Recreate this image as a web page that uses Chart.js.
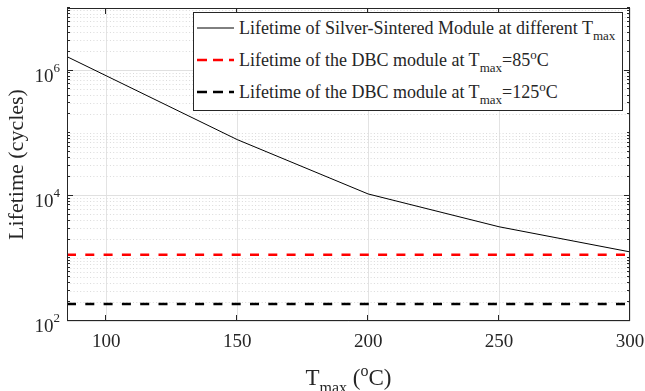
<!DOCTYPE html>
<html>
<head>
<meta charset="utf-8">
<script src="https://cdn.jsdelivr.net/npm/chart.js@4.4.1/dist/chart.umd.min.js"></script>
<style>
html, body { margin: 0; padding: 0; background: #fff; }
#wrap { position: relative; width: 645px; height: 391px; font-family: "Liberation Serif", "Times New Roman", serif; color: #262626; }
#wrap canvas { position: absolute; left: 0; top: 0; }
#legend { position: absolute; left: 193px; top: 12px; width: 430px; height: 99px; box-sizing: border-box;
          border: 1px solid #262626; background: #fff; font-size: 18px; }
.row { position: absolute; left: 3px; height: 20px; display: flex; align-items: center; white-space: nowrap; }
.row svg { margin-right: 5px; }
.sub { font-size: 13px; position: relative; top: 6px; line-height: 0; }
.sup { font-size: 13px; position: relative; top: -7px; line-height: 0; }
#xtitle { position: absolute; left: 0; width: 697px; text-align: center; top: 366px; font-size: 23px; white-space: nowrap; line-height: 23px; }
#xtitle .sub { font-size: 16px; top: 8px; }
#xtitle .sup { font-size: 16px; top: -9px; }
</style>
</head>
<body>
<div id="wrap">
  <canvas id="chartLife" width="645" height="391"></canvas>
  <div id="legend">
    <div class="row" style="top:5px">
      <svg width="37" height="6"><line x1="0" y1="3" x2="37" y2="3" stroke="#000" stroke-width="1"/></svg>
      <span>Lifetime of Silver-Sintered Module at different T<span class="sub">max</span></span>
    </div>
    <div class="row" style="top:37px">
      <svg width="37" height="6"><line x1="0" y1="3" x2="37" y2="3" stroke="#ff0000" stroke-width="2.5" stroke-dasharray="10 6"/></svg>
      <span>Lifetime of the DBC module at T<span class="sub">max</span>=85<span class="sup">o</span>C</span>
    </div>
    <div class="row" style="top:69px">
      <svg width="37" height="6"><line x1="0" y1="3" x2="37" y2="3" stroke="#000" stroke-width="2.5" stroke-dasharray="10 6"/></svg>
      <span>Lifetime of the DBC module at T<span class="sub">max</span>=125<span class="sup">o</span>C</span>
    </div>
  </div>
  <div id="xtitle">T<span class="sub">max</span> (<span class="sup">o</span>C)</div>
</div>
<script>
// данные
const tmax = [85, 150, 200, 250, 300];
const lifeSilver = [1.67e6, 7.9e4, 1.07e4, 3.2e3, 1.27e3];
const dbcTmax = [85, 300];
const lifeDbc85 = [1140, 1140];
const lifeDbc125 = [187, 187];

const xTicks = [100, 150, 200, 250, 300];
const yMajor = [1e2, 1e4, 1e6];
const yDecades = [1e2, 1e3, 1e4, 1e5, 1e6];
const yMant = [1, 2, 3, 4, 5, 6, 7, 8, 9];

// минорные деления лог-шкалы (2..9 в каждой декаде + 1e3, 1e5, 1e7)
let yMinor = [];
yDecades.forEach(d => yMant.forEach(m => { if (!(m === 1 && yMajor.includes(d))) yMinor.push(m * d); }));
yMinor.push(1e7);

const pts = (xs, ys) => xs.map((x, i) => ({ x: x, y: ys[i] }));

const FONT = '"Liberation Serif", "Times New Roman", serif';
const AX = '#262626';

// рамка, внутренние засечки и подписи 10^n
const framePlugin = {
    id: 'framePlugin',
    afterDraw(chart) {
        const { ctx, chartArea: a, scales } = chart;
        const xs = scales.x, ys = scales.y;
        ctx.save();
        ctx.strokeStyle = AX;
        ctx.lineWidth = 1;
        ctx.beginPath();
        xTicks.forEach(v => {
            let p = Math.round(xs.getPixelForValue(v)) - 0.5;
            ctx.moveTo(p, a.bottom); ctx.lineTo(p, a.bottom - 6);
            ctx.moveTo(p, a.top); ctx.lineTo(p, a.top + 6);
        });
        yMajor.forEach(v => {
            let p = Math.round(ys.getPixelForValue(v)) - 0.5;
            ctx.moveTo(a.left, p); ctx.lineTo(a.left + 6, p);
            ctx.moveTo(a.right, p); ctx.lineTo(a.right - 6, p);
        });
        yMinor.forEach(v => {
            let p = Math.round(ys.getPixelForValue(v)) - 0.5;
            ctx.moveTo(a.left, p); ctx.lineTo(a.left + 3, p);
            ctx.moveTo(a.right, p); ctx.lineTo(a.right - 3, p);
        });
        ctx.stroke();
        ctx.strokeRect(a.left + 0.5, a.top + 0.5, a.right - a.left - 1, a.bottom - a.top - 1);

        ctx.fillStyle = AX;
        ctx.textAlign = 'right';
        ctx.textBaseline = 'alphabetic';
        yMajor.forEach(v => {
            let p = ys.getPixelForValue(v);
            let e = String(Math.round(Math.log10(v)));
            ctx.font = '13px ' + FONT;
            let ew = ctx.measureText(e).width;
            ctx.fillText(e, 60, p + 1);
            ctx.font = '19px ' + FONT;
            ctx.fillText('10', 60 - ew, p + 11);
        });
        ctx.restore();
    }
};

new Chart(document.getElementById('chartLife'), {
    type: 'scatter',
    data: {
        datasets: [
            { label: 'Silver-Sintered', data: pts(tmax, lifeSilver), showLine: true, borderColor: '#000', borderWidth: 1, pointRadius: 0 },
            { label: 'DBC 85', data: pts(dbcTmax, lifeDbc85), showLine: true, borderColor: '#ff0000', borderWidth: 2.5, borderDash: [9, 9.3], pointRadius: 0 },
            { label: 'DBC 125', data: pts(dbcTmax, lifeDbc125), showLine: true, borderColor: '#000', borderWidth: 2.5, borderDash: [9, 9.3], pointRadius: 0 }
        ]
    },
    options: {
        responsive: false,
        animation: false,
        layout: { padding: { top: 8, right: 15, left: 0, bottom: 0 } },
        plugins: { legend: { display: false }, tooltip: { enabled: false } },
        scales: {
            x: {
                type: 'linear', min: 85, max: 300,
                afterBuildTicks: s => { s.ticks = xTicks.map(v => ({ value: v })); },
                afterFit: s => { s.height = 70; s.paddingLeft = 0; s.paddingRight = 0; },
                grid: { color: '#e3e3e3', drawTicks: false },
                border: { display: false },
                ticks: { color: AX, font: { family: FONT, size: 19 }, padding: 10, maxRotation: 0 }
            },
            y: {
                type: 'logarithmic', min: 1e2, max: 1e7, position: 'left',
                afterBuildTicks: s => { s.ticks = yMajor.map(v => ({ value: v })); },
                afterFit: s => { s.width = 67; s.paddingTop = 0; s.paddingBottom = 0; },
                grid: { color: '#e0e0e0', drawTicks: false },
                border: { display: false },
                ticks: { display: false },
                title: { display: true, text: 'Lifetime (cycles)', color: AX, font: { family: FONT, size: 22 }, padding: { top: 4, bottom: 0 } }
            },
            yMinor: {
                type: 'logarithmic', min: 1e2, max: 1e7, position: 'left',
                afterBuildTicks: s => { s.ticks = yMinor.map(v => ({ value: v })); },
                afterFit: s => { s.width = 0; },
                grid: { color: '#dadada', drawTicks: false },
                border: { display: false, dash: [1, 2.3] },
                ticks: { display: false }
            }
        }
    },
    plugins: [framePlugin]
});
</script>
</body>
</html>
